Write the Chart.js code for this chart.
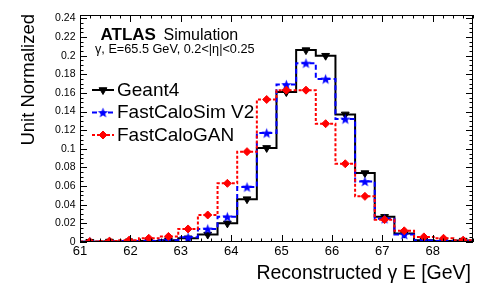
<!DOCTYPE html>
<html>
<head>
<meta charset="utf-8">
<script src="https://cdn.jsdelivr.net/npm/chart.js@4.4.0/dist/chart.umd.min.js"></script>
<style>
  html, body { margin: 0; padding: 0; background: #fff; }
  #wrap { width: 498px; height: 296px; }
</style>
</head>
<body>
<div id="wrap"><canvas id="chart" width="498" height="296"></canvas></div>
<script>
// bin edges of the histogram (GeV)
const binEdges = [61.00, 61.39, 61.78, 62.17, 62.56, 62.95, 63.34, 63.73, 64.12, 64.51,
                  64.90, 65.29, 65.68, 66.07, 66.46, 66.85, 67.24, 67.63, 68.02, 68.41, 68.80];

const geant4 = [0.0003, 0.0005, 0.0008, 0.001, 0.002, 0.004, 0.008, 0.020, 0.046, 0.101,
                0.161, 0.206, 0.200, 0.137, 0.074, 0.027, 0.009, 0.002, 0.001, 0.0015];
const fastCaloSim = [0.0003, 0.0005, 0.001, 0.001, 0.002, 0.005, 0.014, 0.027, 0.059, 0.117,
                     0.169, 0.192, 0.175, 0.132, 0.065, 0.025, 0.008, 0.0015, 0.001, 0.001];
const fastCaloGAN = [0.0005, 0.001, 0.002, 0.004, 0.006, 0.014, 0.029, 0.063, 0.097, 0.153,
                     0.163, 0.163, 0.127, 0.084, 0.049, 0.024, 0.012, 0.0055, 0.004, 0.002];

const xTicks = [61, 62, 63, 64, 65, 66, 67, 68];
const yTicks = [0, 0.02, 0.04, 0.06, 0.08, 0.1, 0.12, 0.14, 0.16, 0.18, 0.2, 0.22, 0.24];

const xMin = 61, xMax = 68.8, yMin = 0, yMax = 0.2437;
const FONT = '"Liberation Sans", Arial, sans-serif';

// filled 5-point star for the FastCaloSim markers
function starCanvas(color, r) {
  const c = document.createElement('canvas');
  const s = Math.ceil(r * 2 + 2);
  c.width = s; c.height = s;
  const g = c.getContext('2d');
  g.fillStyle = color;
  g.beginPath();
  for (let i = 0; i < 10; i++) {
    const rad = i % 2 === 0 ? r : r * 0.42;
    const a = -Math.PI / 2 + i * Math.PI / 5;
    const px = s / 2 + rad * Math.cos(a), py = s / 2 + 0.5 + rad * Math.sin(a);
    i === 0 ? g.moveTo(px, py) : g.lineTo(px, py);
  }
  g.closePath();
  g.fill();
  return c;
}
const blueStar = starCanvas('#0000ff', 5.5);

const series = [
  { label: 'FastCaloGAN', values: fastCaloGAN, color: '#ff0000', dash: [3, 2], point: 'rectRot', radius: 4, rot: 0 },
  { label: 'FastCaloSim V2', values: fastCaloSim, color: '#0000ff', dash: [5, 3], point: blueStar, radius: 5, rot: 0 },
  { label: 'Geant4', values: geant4, color: '#000000', dash: [], point: 'triangle', radius: 4.5, rot: 180 }
];

const datasets = [];
series.forEach(s => {
  datasets.push({
    label: s.label,
    data: binEdges.map((x, i) => ({ x: x, y: s.values[Math.min(i, s.values.length - 1)] })),
    borderColor: s.color,
    borderWidth: 2,
    borderDash: s.dash,
    stepped: 'before',
    pointRadius: 0,
    fill: false
  });
  datasets.push({
    label: s.label + ' markers',
    data: s.values.map((v, i) => ({ x: (binEdges[i] + binEdges[i + 1]) / 2, y: v })),
    showLine: false,
    pointStyle: s.point,
    pointRadius: s.radius,
    pointRotation: s.rot,
    pointBackgroundColor: s.color,
    pointBorderColor: s.color,
    pointBorderWidth: 1
  });
});

const frameAndLegend = {
  id: 'frameAndLegend',
  afterDraw(chart) {
    const ctx = chart.ctx;
    const a = chart.chartArea;
    const xs = chart.scales.x, ys = chart.scales.y;
    ctx.save();
    ctx.strokeStyle = '#000';
    ctx.lineWidth = 1;
    ctx.setLineDash([]);
    ctx.strokeRect(a.left + 0.5, a.top + 0.5, a.right - a.left - 1, a.bottom - a.top - 1);

    // ticks inside the frame
    ctx.beginPath();
    for (let v = 61; v <= xMax + 1e-6; v += 0.2) {
      const major = Math.abs(v - Math.round(v)) < 1e-6;
      const len = major ? 7 : 3.5;
      const px = Math.round(xs.getPixelForValue(v)) + 0.5;
      ctx.moveTo(px, a.bottom); ctx.lineTo(px, a.bottom - len);
      ctx.moveTo(px, a.top); ctx.lineTo(px, a.top + len);
    }
    for (let v = 0; v <= yMax + 1e-6; v += 0.005) {
      const major = Math.abs(v / 0.02 - Math.round(v / 0.02)) < 1e-6;
      const len = major ? 7 : 3.5;
      const py = Math.round(ys.getPixelForValue(v)) + 0.5;
      ctx.moveTo(a.left, py); ctx.lineTo(a.left + len, py);
      ctx.moveTo(a.right, py); ctx.lineTo(a.right - len, py);
    }
    ctx.stroke();

    ctx.fillStyle = '#000';
    ctx.textBaseline = 'alphabetic';

    // axis titles
    ctx.font = '19.5px ' + FONT;
    ctx.textAlign = 'right';
    ctx.fillText('Reconstructed γ E [GeV]', 471, 279);
    ctx.save();
    ctx.translate(34, 14);
    ctx.rotate(-Math.PI / 2);
    ctx.font = '18.5px ' + FONT;
    ctx.textAlign = 'right';
    ctx.fillText('Unit Normalized', 0, 0);
    ctx.restore();

    // ATLAS label
    ctx.textAlign = 'left';
    ctx.font = 'bold 17px ' + FONT;
    ctx.fillText('ATLAS', 100.5, 40);
    ctx.font = '16px ' + FONT;
    ctx.fillText('Simulation', 163.5, 40);
    ctx.font = '12.7px ' + FONT;
    ctx.fillText('γ, E=65.5 GeV, 0.2<|η|<0.25', 95, 53);

    // legend
    const entries = [series[2], series[1], series[0]];
    const lineY = [90, 112.5, 135];
    entries.forEach((s, i) => {
      const y = lineY[i];
      ctx.strokeStyle = s.color;
      ctx.lineWidth = 2;
      ctx.setLineDash(s.dash);
      ctx.beginPath();
      ctx.moveTo(92, y); ctx.lineTo(114, y);
      ctx.stroke();
      ctx.setLineDash([]);
      ctx.lineWidth = 1;
      ctx.fillStyle = s.color;
      ctx.strokeStyle = s.color;
      Chart.helpers.drawPoint(ctx, {
        pointStyle: s.point, radius: s.radius, rotation: s.rot, borderWidth: 1
      }, 103, y);
      ctx.fillStyle = '#000';
      ctx.font = '19px ' + FONT;
      ctx.fillText(s.label, 117, y + 5.5);
    });
    ctx.restore();
  }
};

new Chart(document.getElementById('chart'), {
  type: 'line',
  data: { datasets: datasets },
  options: {
    responsive: false,
    animation: false,
    devicePixelRatio: 1,
    layout: { padding: { left: 0, top: 15, right: 25, bottom: 0 } },
    plugins: { legend: { display: false }, tooltip: { enabled: false } },
    scales: {
      x: {
        type: 'linear',
        min: xMin,
        max: xMax,
        afterBuildTicks: scale => { scale.ticks = xTicks.map(v => ({ value: v })); },
        afterFit: scale => { scale.height = 54; },
        grid: { display: false, drawTicks: false },
        border: { display: false },
        ticks: {
          color: '#000',
          font: { family: FONT, size: 13 },
          padding: 2,
          maxRotation: 0,
          autoSkip: false
        }
      },
      y: {
        type: 'linear',
        min: yMin,
        max: yMax,
        afterBuildTicks: scale => { scale.ticks = yTicks.map(v => ({ value: v })); },
        afterFit: scale => { scale.width = 80; },
        grid: { display: false, drawTicks: false },
        border: { display: false },
        ticks: {
          color: '#000',
          font: { family: FONT, size: 10.5 },
          padding: 4.5,
          autoSkip: false,
          callback: v => String(v)
        }
      }
    }
  },
  plugins: [frameAndLegend]
});
</script>
</body>
</html>
